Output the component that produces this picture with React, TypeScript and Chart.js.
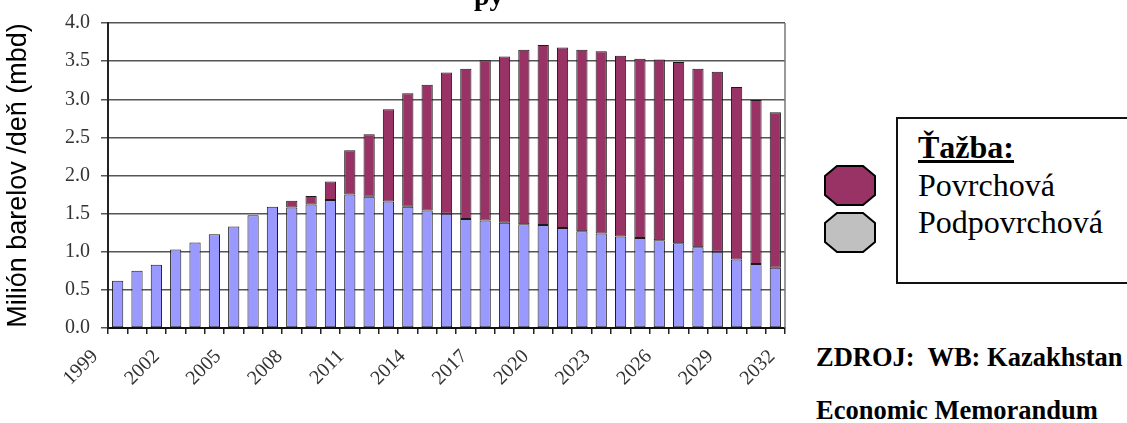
import { useEffect, useRef } from 'react';
import { Chart, registerables } from 'chart.js';

Chart.register(...registerables);

const categories = [
  '1999', '2000', '2001', '2002', '2003', '2004', '2005', '2006', '2007', '2008',
  '2009', '2010', '2011', '2012', '2013', '2014', '2015', '2016', '2017', '2018',
  '2019', '2020', '2021', '2022', '2023', '2024', '2025', '2026', '2027', '2028',
  '2029', '2030', '2031', '2032', '2033',
];

// Year labels printed under the axis (every third year)
const shownYears = ['1999', '2002', '2005', '2008', '2011', '2014', '2017', '2020', '2023', '2026', '2029', '2032'];

// Podpovrchová (lower, lavender segment)
const podpovrchova = [
  0.62, 0.75, 0.83, 1.03, 1.12, 1.23, 1.33, 1.48, 1.59, 1.58,
  1.62, 1.68, 1.75, 1.72, 1.66, 1.59, 1.54, 1.50, 1.43, 1.41,
  1.38, 1.36, 1.35, 1.31, 1.27, 1.24, 1.20, 1.18, 1.15, 1.11,
  1.06, 1.00, 0.90, 0.84, 0.79,
];

// Povrchová (upper, maroon segment)
const povrchova = [
  null, null, null, null, null, null, null, null, null, 0.09,
  0.11, 0.24, 0.58, 0.82, 1.21, 1.49, 1.65, 1.85, 1.97, 2.10,
  2.18, 2.29, 2.36, 2.37, 2.38, 2.39, 2.37, 2.35, 2.37, 2.38,
  2.34, 2.36, 2.26, 2.15, 2.04,
];

const yTickLabels = ['0.0', '0.5', '1.0', '1.5', '2.0', '2.5', '3.0', '3.5', '4.0'];

const SERIF = '"Liberation Serif", "Times New Roman", serif';
const SANS = '"Liberation Sans", Arial, sans-serif';

function Octagon({ fill, top }: { fill: string; top: number }) {
  return (
    <svg width={52} height={41} style={{ position: 'absolute', left: 824, top }}>
      <polygon
        points="13,1 39,1 51,11 51,30 39,40 13,40 1,30 1,11"
        fill={fill}
        stroke="#000"
        strokeWidth={2}
      />
    </svg>
  );
}

export default function App() {
  const ref = useRef<HTMLCanvasElement>(null);

  useEffect(() => {
    const canvas = ref.current;
    if (!canvas) return;
    const rightBorder = {
      id: 'rightBorder',
      afterDraw(chart: any) {
        const { ctx, chartArea } = chart;
        ctx.save();
        ctx.strokeStyle = '#777';
        ctx.lineWidth = 1.5;
        ctx.beginPath();
        ctx.moveTo(chartArea.right, chartArea.top);
        ctx.lineTo(chartArea.right, chartArea.bottom);
        ctx.stroke();
        ctx.restore();
      },
    };
    const barCommon = {
      borderColor: '#1a1a1a',
      borderWidth: 1,
      borderSkipped: false,
      barPercentage: 0.58,
      categoryPercentage: 1,
    };
    const chart = new Chart(canvas, {
      type: 'bar',
      data: {
        labels: categories,
        datasets: [
          { label: 'Podpovrchová', data: podpovrchova, backgroundColor: '#9999FF', ...barCommon } as any,
          { label: 'Povrchová', data: povrchova, backgroundColor: '#993366', ...barCommon } as any,
        ],
      },
      options: {
        responsive: false,
        animation: false,
        layout: { padding: { left: 0, right: 15, top: 21, bottom: 0 } },
        plugins: { legend: { display: false }, tooltip: { enabled: false }, title: { display: false } },
        scales: {
          x: {
            stacked: true,
            grid: {
              offset: true,
              drawOnChartArea: false,
              drawTicks: true,
              tickLength: 6,
              color: '#222',
              lineWidth: 1.5,
            },
            border: { display: true, color: '#111', width: 2 },
            ticks: {
              autoSkip: false,
              maxRotation: 0,
              minRotation: 0,
              padding: 0,
              callback: () => '',
            },
            afterFit: (s: any) => {
              s.height = 8;
              s.paddingLeft = 0;
              s.paddingRight = 0;
            },
          } as any,
          x2: {
            type: 'category',
            position: 'bottom',
            labels: shownYears,
            offset: false,
            grid: { display: false, drawTicks: false },
            border: { display: false },
            ticks: {
              autoSkip: false,
              maxRotation: 45,
              minRotation: 45,
              padding: 9,
              labelOffset: -13,
              color: '#333',
              font: { family: SERIF, size: 20 },
            },
            afterFit: (s: any) => {
              s.height = 87;
              s.paddingLeft = 0;
              s.paddingRight = 0;
            },
          } as any,
          y: {
            stacked: true,
            min: 0,
            max: 4,
            ticks: {
              stepSize: 0.5,
              padding: 11,
              color: '#333',
              font: { family: SERIF, size: 20 },
              callback: (_v: any, i: number) => yTickLabels[i],
            },
            grid: { color: '#555', lineWidth: 1.5, tickLength: 7 },
            border: { display: true, color: '#222', width: 2 },
            title: {
              display: true,
              text: 'Milión barelov /deň (mbd)',
              color: '#000',
              font: { family: SANS, size: 27 },
              padding: { top: 2, bottom: 0 },
            },
            afterFit: (s: any) => {
              s.width = 108;
            },
          },
        },
      },
      plugins: [rightBorder],
    });
    return () => chart.destroy();
  }, []);

  const textBase = {
    position: 'absolute' as const,
    fontFamily: SERIF,
    whiteSpace: 'pre' as const,
    color: '#000',
  };

  return (
    <div
      style={{
        position: 'absolute',
        left: 0,
        top: 0,
        width: 1127,
        height: 423,
        overflow: 'hidden',
        background: '#fff',
      }}
    >
      <canvas ref={ref} width={800} height={423} style={{ position: 'absolute', left: 0, top: 0 }} />
      <div style={{ ...textBase, left: 474, top: -18, fontWeight: 'bold', fontSize: 28, lineHeight: '28px' }}>py</div>
      <Octagon fill="#993366" top={165} />
      <Octagon fill="#C0C0C0" top={212} />
      <div
        style={{
          position: 'absolute',
          left: 896,
          top: 117,
          width: 260,
          height: 163,
          borderTop: '2px solid #111',
          borderBottom: '2px solid #111',
          borderLeft: '2px solid #111',
        }}
      />
      <div style={{ ...textBase, left: 918, top: 131, fontSize: 32, lineHeight: '32px' }}>
        <span style={{ fontWeight: 'bold', textDecoration: 'underline', textDecorationThickness: 3 }}>Ťažba:</span>
      </div>
      <div style={{ ...textBase, left: 918, top: 169, fontSize: 32, lineHeight: '32px' }}>Povrchová</div>
      <div style={{ ...textBase, left: 918, top: 206, fontSize: 32, lineHeight: '32px' }}>Podpovrchová</div>
      <div style={{ ...textBase, left: 816, top: 344, fontWeight: 'bold', fontSize: 26.5, lineHeight: '26.5px' }}>
        {'ZDROJ:  WB: Kazakhstan'}
      </div>
      <div style={{ ...textBase, left: 816, top: 397, fontWeight: 'bold', fontSize: 26.5, lineHeight: '26.5px' }}>
        Economic Memorandum
      </div>
    </div>
  );
}
